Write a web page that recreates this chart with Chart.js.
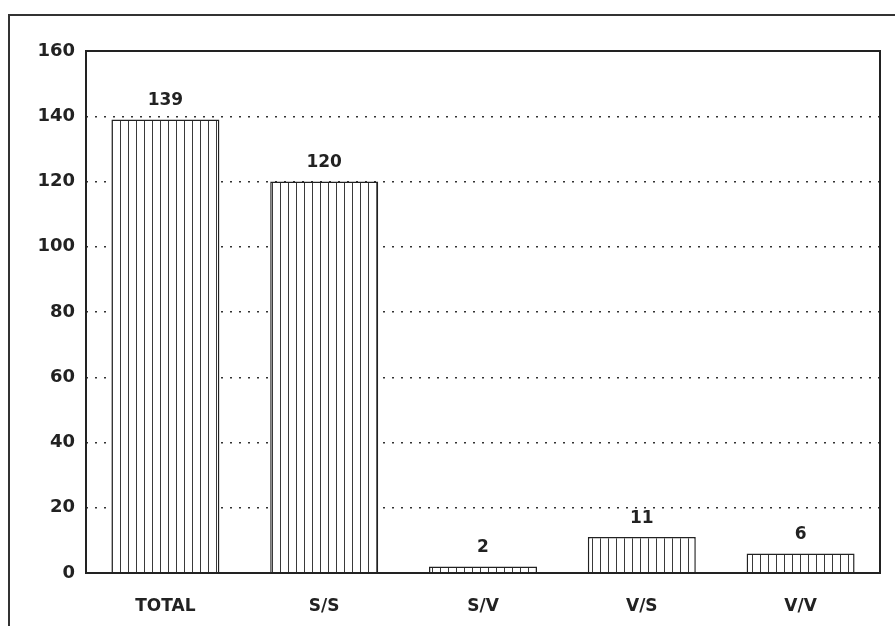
<!DOCTYPE html>
<html>
<head>
<meta charset="utf-8">
<script src="https://cdn.jsdelivr.net/npm/chart.js@4/dist/chart.umd.min.js"></script>
<style>
  html, body { margin: 0; padding: 0; background: #fff; overflow: hidden; }
  #frame { position: absolute; left: 8px; top: 14px; width: 1000px; height: 1000px;
           border-left: 2px solid #333; border-top: 2px solid #333; }
  #wrap { position: absolute; left: 0; top: 0; width: 895px; height: 626px; }
</style>
</head>
<body>
<div id="frame"></div>
<div id="wrap"><canvas id="chart"></canvas></div>
<script>
// data
var categories = ["TOTAL", "S/S", "S/V", "V/S", "V/V"];
var counts = [139, 120, 2, 11, 6];
var yMax = 160;
var yStep = 20;

// vertical hatch fill for the bars
function stripes() {
    var c = document.createElement("canvas");
    c.width = 8; c.height = 4;
    var g = c.getContext("2d");
    g.fillStyle = "#fff";
    g.fillRect(0, 0, 8, 4);
    g.fillStyle = "#3a3a3a";
    g.fillRect(0, 0, 1, 4);
    return g.createPattern(c, "repeat");
}

var font = "'DejaVu Sans', Arial, sans-serif";

var boxAndLabels = {
    id: "boxAndLabels",
    afterDatasetsDraw: function(chart) {
        var ctx = chart.ctx, a = chart.chartArea;
        ctx.save();
        ctx.strokeStyle = "#222";
        ctx.lineWidth = 2;
        ctx.strokeRect(a.left, a.top, a.right - a.left, a.bottom - a.top);
        ctx.fillStyle = "#222";
        ctx.font = "bold 17px " + font;
        ctx.textAlign = "center";
        ctx.textBaseline = "bottom";
        chart.getDatasetMeta(0).data.forEach(function(bar, i) {
            ctx.fillText(counts[i], bar.x, bar.y - 10);
        });
        ctx.restore();
    }
};

var ctx = document.getElementById("chart").getContext("2d");
var chart = new Chart(ctx, {
    type: "bar",
    data: {
        labels: categories,
        datasets: [{
            data: counts,
            backgroundColor: stripes(),
            borderColor: "#222",
            borderWidth: 1.5,
            categoryPercentage: 1,
            barPercentage: 0.68
        }]
    },
    options: {
        responsive: true,
        maintainAspectRatio: false,
        animation: false,
        layout: { padding: { left: 0, top: 51, right: 15, bottom: 0 } },
        plugins: { legend: { display: false }, tooltip: { enabled: false } },
        scales: {
            x: {
                grid: { display: false },
                border: { display: false },
                ticks: { color: "#222", padding: 15, font: { family: font, size: 17, weight: "bold" } },
                afterFit: function(s) { s.height = 53; }
            },
            y: {
                min: 0, max: yMax,
                ticks: { stepSize: yStep, color: "#222", padding: 11, font: { family: font, size: 18, weight: "bold" } },
                grid: { color: "#333", lineWidth: 1.5, tickLength: 0, drawTicks: false },
                border: { display: false, dash: [2, 7] },
                afterFit: function(s) { s.width = 86; }
            }
        }
    },
    plugins: [boxAndLabels]
});
</script>
</body>
</html>
